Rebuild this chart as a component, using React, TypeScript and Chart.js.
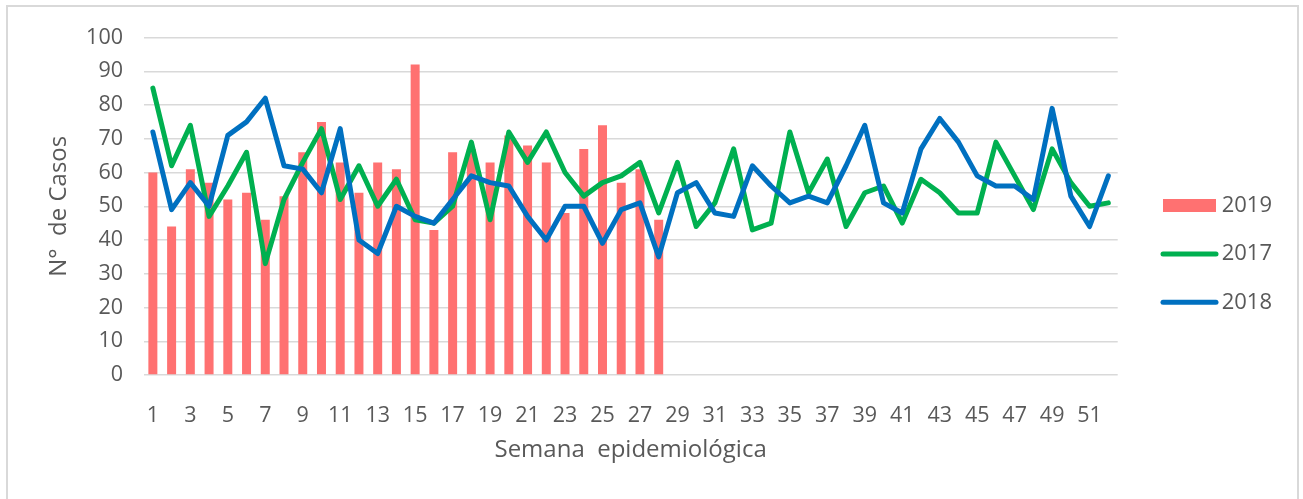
import React, { useEffect, useRef } from 'react';
import { Chart, registerables } from 'chart.js';

Chart.register(...registerables);

const weeks = ['1', '2', '3', '4', '5', '6', '7', '8', '9', '10', '11', '12', '13', '14', '15', '16', '17', '18', '19', '20', '21', '22', '23', '24', '25', '26', '27', '28', '29', '30', '31', '32', '33', '34', '35', '36', '37', '38', '39', '40', '41', '42', '43', '44', '45', '46', '47', '48', '49', '50', '51', '52'];

const cases2019 = [60, 44, 61, 57, 52, 54, 46, 53, 66, 75, 63, 54, 63, 61, 92, 43, 66, 67, 63, 71, 68, 63, 48, 67, 74, 57, 61, 46];

const cases2017 = [85, 62, 74, 47, 56, 66, 33, 52, 63, 73, 52, 62, 50, 58, 46, 45, 50, 69, 46, 72, 63, 72, 60, 53, 57, 59, 63, 48, 63, 44, 51, 67, 43, 45, 72, 54, 64, 44, 54, 56, 45, 58, 54, 48, 48, 69, 59, 49, 67, 57, 50, 51];

const cases2018 = [72, 49, 57, 50, 71, 75, 82, 62, 61, 54, 73, 40, 36, 50, 47, 45, 52, 59, 57, 56, 47, 40, 50, 50, 39, 49, 51, 35, 54, 57, 48, 47, 62, 56, 51, 53, 51, 62, 74, 51, 48, 67, 76, 69, 59, 56, 56, 52, 79, 53, 44, 59];

const seriesLabels = ['2019', '2017', '2018'];
const xTitle = 'Semana  epidemiológica';
const yTitle = 'N°  de Casos';

const FONT = "'Open Sans', sans-serif";
const TEXT = '#595959';
const RED = '#FF7171';
const GREEN = '#00B050';
const BLUE = '#0070C0';

export default function App() {
  const ref = useRef<HTMLCanvasElement | null>(null);

  useEffect(() => {
    if (!ref.current) return;
    const colors = [RED, GREEN, BLUE];
    const chart = new Chart(ref.current, {
      type: 'bar',
      data: {
        labels: weeks,
        datasets: [
          {
            type: 'bar',
            label: seriesLabels[0],
            data: cases2019,
            backgroundColor: RED,
            barPercentage: 0.48,
            categoryPercentage: 1,
            order: 3,
          },
          {
            type: 'line',
            label: seriesLabels[1],
            data: cases2017,
            borderColor: GREEN,
            backgroundColor: GREEN,
            borderWidth: 5,
            pointRadius: 0,
            pointHoverRadius: 0,
            tension: 0,
            fill: false,
            borderCapStyle: 'round',
            borderJoinStyle: 'round',
            order: 2,
          },
          {
            type: 'line',
            label: seriesLabels[2],
            data: cases2018,
            borderColor: BLUE,
            backgroundColor: BLUE,
            borderWidth: 5,
            pointRadius: 0,
            pointHoverRadius: 0,
            tension: 0,
            fill: false,
            borderCapStyle: 'round',
            borderJoinStyle: 'round',
            order: 1,
          },
        ],
      } as any,
      options: {
        responsive: false,
        animation: false,
        devicePixelRatio: 1,
        layout: { padding: { left: 0, top: 0, right: 31, bottom: 10.1 } },
        plugins: {
          title: {
            display: true,
            text: '',
            padding: { top: 27.5, bottom: 0 },
            font: { size: 10, lineHeight: 1 },
          },
          tooltip: { enabled: false },
          legend: {
            position: 'right',
            align: 'center',
            maxWidth: 154.3,
            labels: {
              usePointStyle: true,
              pointStyleWidth: 53,
              boxHeight: 13,
              padding: 45.3,
              color: TEXT,
              textAlign: 'right',
              font: { family: FONT, size: 22, lineHeight: '3.1px' },
              generateLabels: (c: any) =>
                c.data.datasets.map((ds: any, i: number) => ({
                  text: [ds.label],
                  fillStyle: colors[i],
                  strokeStyle: colors[i],
                  fontColor: TEXT,
                  lineWidth: i === 0 ? 0 : 5,
                  lineCap: 'round',
                  pointStyle: i === 0 ? 'rect' : 'line',
                  textAlign: 'right',
                  hidden: false,
                  datasetIndex: i,
                })),
            },
          },
        },
        scales: {
          x: {
            offset: true,
            grid: { display: false },
            border: { display: false },
            ticks: {
              autoSkip: false,
              maxRotation: 0,
              minRotation: 0,
              padding: 20.1,
              color: TEXT,
              font: { family: FONT, size: 21.5 },
              callback: (_v: any, i: number) => (i % 2 === 0 ? weeks[i] : ''),
            },
            title: {
              display: true,
              text: xTitle,
              color: TEXT,
              font: { family: FONT, size: 24 },
              padding: { top: 0, bottom: 24.5 },
            },
            afterFit: (s: any) => {
              s.height = 113.9;
            },
          },
          y: {
            min: 0,
            max: 100,
            grid: { color: '#D9D9D9', lineWidth: 1.5, drawTicks: false },
            border: { display: false },
            ticks: {
              stepSize: 10,
              padding: 20.5,
              color: TEXT,
              font: { family: FONT, size: 21.5 },
            },
            title: {
              display: true,
              text: yTitle,
              color: TEXT,
              font: { family: FONT, size: 24 },
              padding: { top: 44.6, bottom: 0 },
            },
            afterFit: (s: any) => {
              s.width = 143.5;
            },
          },
        },
      } as any,
    });
    return () => chart.destroy();
  }, []);

  return (
    <div style={{ position: 'fixed', left: 0, top: 0, width: 1303, height: 499, overflow: 'hidden', background: '#fff' }}>
      <div
        style={{
          position: 'absolute',
          left: 6,
          top: 5,
          width: 1293,
          height: 520,
          border: '2px solid #D9D9D9',
          boxSizing: 'border-box',
        }}
      />
      <canvas
        ref={ref}
        width={1303}
        height={499}
        style={{ position: 'absolute', left: 0, top: 0, width: 1303, height: 499 }}
      />
    </div>
  );
}
